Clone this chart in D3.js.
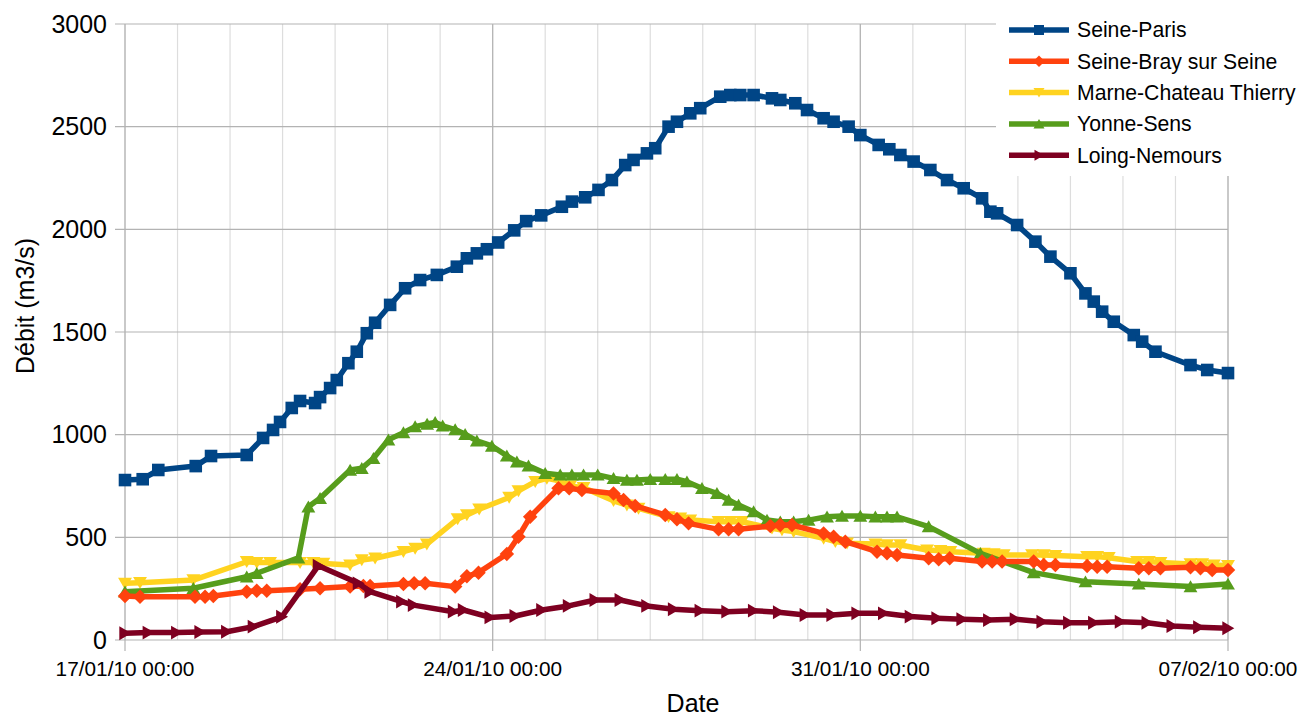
<!DOCTYPE html>
<html><head><meta charset="utf-8">
<script src="https://cdn.jsdelivr.net/npm/d3@7"></script>
<style>body{margin:0;background:#fff}svg{display:block;font-family:"Liberation Sans",Arial,sans-serif}</style>
</head><body><svg id="c" width="1300" height="718"></svg>
<script>
// Days since 17/01/10 00:00, and flow in m3/s
const seineParisDays = [0,0.337,0.634,1.347,1.638,2.318,2.629,2.819,2.952,3.175,3.333,3.619,3.714,3.905,4.032,4.253,4.413,4.604,4.762,5.048,5.333,5.619,5.937,6.318,6.509,6.699,6.890,7.105,7.410,7.638,7.924,8.318,8.509,8.762,9.015,9.270,9.524,9.682,9.937,10.095,10.349,10.509,10.762,10.952,11.333,11.524,11.714,11.968,12.318,12.476,12.762,12.985,13.301,13.491,13.777,14.0,14.349,14.552,14.762,15.015,15.333,15.651,15.968,16.318,16.476,16.604,16.985,17.333,17.619,18.0,18.286,18.444,18.604,18.825,19.206,19.366,19.619,20.286,20.604,21];
const seineParis = [779,783,828,847,896,901,984,1023,1062,1130,1164,1154,1183,1227,1266,1348,1404,1494,1545,1632,1713,1753,1778,1818,1859,1883,1903,1936,1995,2040,2068,2110,2135,2156,2192,2240,2313,2338,2370,2395,2500,2524,2565,2590,2646,2654,2654,2654,2638,2630,2614,2581,2541,2524,2500,2459,2411,2390,2362,2330,2289,2240,2200,2151,2086,2078,2021,1940,1867,1786,1688,1648,1599,1550,1485,1453,1404,1339,1315,1300];

const seineBrayDays = [0,0.286,1.333,1.524,1.682,2.318,2.509,2.699,3.333,3.714,4.286,4.539,4.667,5.301,5.505,5.714,6.286,6.509,6.730,7.270,7.491,7.714,8.253,8.457,8.699,9.301,9.492,9.714,10.286,10.509,10.730,11.301,11.492,11.682,12.286,12.476,12.699,13.301,13.491,13.714,14.318,14.508,14.699,15.301,15.492,15.701,16.318,16.509,16.699,17.301,17.492,17.714,18.318,18.509,18.699,19.301,19.492,19.714,20.286,20.476,20.699,21];
const seineBray = [214,211,211,211,214,235,240,240,247,252,260,263,263,273,276,276,260,310,328,419,503,600,739,739,730,714,682,653,609,588,568,539,539,539,555,560,560,519,503,479,430,422,414,398,393,398,382,382,382,382,365,365,360,357,357,349,349,349,354,349,341,341];

const marneDays = [0,0.286,1.301,2.318,2.509,2.762,3.333,3.587,3.777,4.286,4.508,4.762,5.301,5.524,5.747,6.333,6.509,6.743,7.314,7.491,7.810,8.032,8.248,8.476,8.730,9.301,9.556,9.777,10.349,10.571,10.762,11.301,11.524,11.747,12.318,12.508,12.730,13.301,13.524,13.747,14.286,14.508,14.762,15.270,15.524,15.714,16.349,16.539,16.730,17.270,17.492,17.714,18.318,18.509,18.730,19.270,19.492,19.714,20.286,20.509,20.730,21];
const marne = [276,279,292,381,377,377,377,377,373,365,390,398,430,446,467,590,609,637,694,726,771,787,776,750,742,678,657,641,600,593,584,576,576,576,544,536,528,495,479,471,467,463,463,438,435,430,422,419,414,414,414,411,406,406,401,382,382,377,370,370,365,362];

const yonneDays = [0,1.301,2.318,2.509,3.301,3.491,3.714,4.286,4.508,4.730,5.015,5.301,5.524,5.752,5.905,6.048,6.286,6.476,6.699,6.985,7.270,7.461,7.682,8.0,8.286,8.508,8.730,9.0,9.301,9.556,9.747,10.0,10.286,10.509,10.699,10.985,11.270,11.492,11.682,11.968,12.223,12.476,12.730,13.015,13.366,13.651,14.0,14.286,14.508,14.699,15.301,16.286,17.301,18.286,19.301,20.286,21];
const yonne = [235,252,308,325,400,649,690,828,836,885,975,1010,1039,1052,1060,1043,1025,1002,970,945,897,868,848,812,804,804,804,804,787,779,779,783,783,783,771,739,714,682,657,625,584,576,576,584,600,604,604,600,600,600,552,422,328,284,273,260,273];

const loingDays = [0,0.444,0.985,1.429,1.937,2.444,2.985,3.682,4.444,4.667,5.270,5.492,6.254,6.444,6.952,7.429,7.937,8.444,8.952,9.429,9.937,10.444,10.952,11.461,11.968,12.444,12.952,13.461,13.937,14.444,14.952,15.461,15.937,16.444,16.952,17.461,17.968,18.444,18.952,19.461,19.937,20.444,21];
const loing = [33,36,36,39,40,65,113,362,276,235,187,170,138,146,110,117,146,166,195,195,166,150,143,138,143,135,122,122,130,130,114,106,101,97,101,89,84,84,89,84,68,62,57];

const seriesNames = ["Seine-Paris","Seine-Bray sur Seine","Marne-Chateau Thierry","Yonne-Sens","Loing-Nemours"];
const yTicks = [0,500,1000,1500,2000,2500,3000];
const xTickDays = [0,7,14,21];
const yTitle = "Débit (m3/s)";
const xTitle = "Date";

const colors = ["#004586","#ff420e","#ffd320","#579d1c","#7e0021"];
const shapes = ["square","diamond","down","up","right"];

const start = Date.UTC(2010,0,17);
const toDate = d => new Date(start + d*86400000);
const series = [
  {days:seineParisDays, vals:seineParis},
  {days:seineBrayDays, vals:seineBray},
  {days:marneDays, vals:marne},
  {days:yonneDays, vals:yonne},
  {days:loingDays, vals:loing}
].map((s,i)=>({name:seriesNames[i], color:colors[i], shape:shapes[i],
  pts:s.days.map((d,j)=>({t:toDate(d), v:s.vals[j]}))}));

const L=125, R=1228, T=24, B=640;
const x = d3.scaleUtc().domain([toDate(0), toDate(21)]).range([L,R]);
const y = d3.scaleLinear().domain([0,3000]).range([B,T]);
const svg = d3.select("#c");

function markerPath(shape, s){
  switch(shape){
    case "square": return `M${-s},${-s}H${s}V${s}H${-s}Z`;
    case "diamond": return `M0,${-s*1.15}L${s*1.15},0L0,${s*1.15}L${-s*1.15},0Z`;
    case "down": return `M${-s*1.1},${-s*0.9}L${s*1.1},${-s*0.9}L0,${s}Z`;
    case "up": return `M${-s*1.1},${s*0.9}L${s*1.1},${s*0.9}L0,${-s}Z`;
    case "right": return `M${-s*0.9},${-s*1.1}L${s},0L${-s*0.9},${s*1.1}Z`;
  }
}

// minor (daily) vertical grid
const days = d3.utcDay.range(toDate(0), toDate(21.01));
svg.append("g").selectAll("line").data(days).join("line")
  .attr("x1",d=>x(d)).attr("x2",d=>x(d)).attr("y1",T).attr("y2",B)
  .attr("stroke","#dddddd").attr("stroke-width",1.2);
// horizontal grid
svg.append("g").selectAll("line").data(yTicks).join("line")
  .attr("x1",L-10).attr("x2",R).attr("y1",d=>y(d)).attr("y2",d=>y(d))
  .attr("stroke","#b3b3b3").attr("stroke-width",1.2);
// major vertical grid
svg.append("g").selectAll("line").data(xTickDays.map(toDate)).join("line")
  .attr("x1",d=>x(d)).attr("x2",d=>x(d)).attr("y1",T).attr("y2",B+11)
  .attr("stroke","#b3b3b3").attr("stroke-width",1.2);

// y tick labels
svg.append("g").selectAll("text").data(yTicks).join("text")
  .attr("x",107).attr("y",d=>y(d)).attr("dy","0.35em").attr("text-anchor","end")
  .attr("font-size",25).attr("fill","#000").text(d=>d);
// x tick labels
const fmt = d3.utcFormat("%d/%m/%y %H:%M");
svg.append("g").selectAll("text").data(xTickDays.map(toDate)).join("text")
  .attr("x",d=>x(d)).attr("y",676).attr("text-anchor","middle")
  .attr("font-size",20.8).attr("fill","#000").text(d=>fmt(d));
// axis titles
svg.append("text").attr("transform","translate(34,306) rotate(-90)").attr("text-anchor","middle")
  .attr("font-size",25).text(yTitle);
svg.append("text").attr("x",693).attr("y",712).attr("text-anchor","middle")
  .attr("font-size",25).text(xTitle);

// series
const drawOrder = [0,2,3,1,4];
const line = d3.line().x(d=>x(d.t)).y(d=>y(d.v));
drawOrder.forEach(i=>{
  const s = series[i];
  const g = svg.append("g");
  g.append("path").datum(s.pts).attr("d",line).attr("fill","none")
    .attr("stroke",s.color).attr("stroke-width",5.5).attr("stroke-linejoin","round");
  g.selectAll("path.m").data(s.pts).join("path").attr("class","m")
    .attr("transform",d=>`translate(${x(d.t)},${y(d.v)})`)
    .attr("d",markerPath(s.shape,6.3)).attr("fill",s.color);
});

// legend
const lg = svg.append("g");
lg.append("rect").attr("x",996).attr("y",0).attr("width",304).attr("height",176).attr("fill","#fff");
series.forEach((s,i)=>{
  const cy = 30 + i*31.3;
  lg.append("line").attr("x1",1009).attr("x2",1069).attr("y1",cy).attr("y2",cy)
    .attr("stroke",s.color).attr("stroke-width",5.5);
  lg.append("path").attr("transform",`translate(1039,${cy})`).attr("d",markerPath(s.shape,5)).attr("fill",s.color);
  lg.append("text").attr("x",1077).attr("y",cy).attr("dy","0.35em").attr("font-size",21.2).text(s.name);
});
</script></body></html>
